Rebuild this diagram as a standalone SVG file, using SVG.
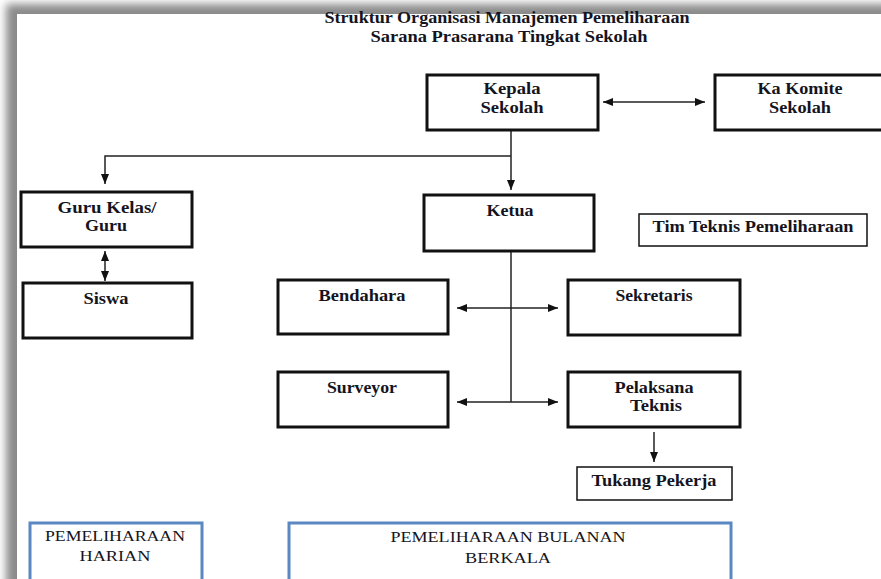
<svg xmlns="http://www.w3.org/2000/svg" width="881" height="579" viewBox="0 0 881 579">
  <defs>
    <filter id="soft" x="-20%" y="-20%" width="140%" height="140%">
      <feGaussianBlur stdDeviation="4"/>
    </filter>
    <marker id="arrow" viewBox="0 0 10 8" refX="10" refY="4" markerWidth="10" markerHeight="8" markerUnits="userSpaceOnUse" orient="auto-start-reverse">
      <path d="M0,0 L10,4 L0,8 z" fill="#111"/>
    </marker>
    <style>
      .box { fill: #fff; stroke: #111; stroke-width: 3; }
      .thin { fill: #fff; stroke: #111; stroke-width: 1.5; }
      .blue { fill: #fff; stroke: #5b87c2; stroke-width: 3; }
      .lbl { font-family: "Liberation Serif", "Times New Roman", serif; font-weight: bold; font-size: 16px; fill: #141420; text-anchor: middle; }
      .cap { font-family: "Liberation Serif", "Times New Roman", serif; font-size: 15px; fill: #141420; text-anchor: middle; }
      .ttl { font-family: "Liberation Serif", "Times New Roman", serif; font-weight: bold; font-size: 16px; fill: #141420; text-anchor: middle; }
      .conn { fill: none; stroke: #222; stroke-width: 1.5; }
    </style>
  </defs>

  <!-- page with soft shadow -->
  <rect x="0" y="0" width="881" height="579" fill="#fff"/>
  <rect x="6" y="4" width="900" height="600" fill="#8a8a8a" filter="url(#soft)"/>
  <rect x="17" y="14" width="870" height="570" fill="#fff"/>

  <!-- title -->
  <g id="title">
    <text class="ttl" x="507" y="23" textLength="365" lengthAdjust="spacingAndGlyphs">Struktur Organisasi Manajemen Pemeliharaan</text>
    <text class="ttl" x="509" y="42" textLength="277" lengthAdjust="spacingAndGlyphs">Sarana Prasarana Tingkat Sekolah</text>
  </g>

  <!-- connectors -->
  <g id="connectors">
    <line class="conn" x1="603" y1="102" x2="705" y2="102" marker-start="url(#arrow)" marker-end="url(#arrow)"/>
    <line class="conn" x1="511" y1="131" x2="511" y2="190" marker-end="url(#arrow)"/>
    <path class="conn" d="M511,156 H105 V184" marker-end="url(#arrow)"/>
    <line class="conn" x1="105" y1="251" x2="105" y2="281" marker-start="url(#arrow)" marker-end="url(#arrow)"/>
    <line class="conn" x1="511" y1="252" x2="511" y2="402"/>
    <line class="conn" x1="457" y1="308" x2="558" y2="308" marker-start="url(#arrow)" marker-end="url(#arrow)"/>
    <line class="conn" x1="457" y1="402" x2="558" y2="402" marker-start="url(#arrow)" marker-end="url(#arrow)"/>
    <line class="conn" x1="654" y1="432" x2="654" y2="462" marker-end="url(#arrow)"/>
  </g>

  <!-- nodes -->
  <g id="kepala-sekolah">
    <rect class="box" x="427" y="75" width="171" height="55"/>
    <text class="lbl" x="512" y="94" textLength="57" lengthAdjust="spacingAndGlyphs">Kepala</text>
    <text class="lbl" x="512" y="113" textLength="63" lengthAdjust="spacingAndGlyphs">Sekolah</text>
  </g>
  <g id="ka-komite">
    <rect class="box" x="715" y="75" width="175" height="55"/>
    <text class="lbl" x="800" y="94" textLength="85" lengthAdjust="spacingAndGlyphs">Ka Komite</text>
    <text class="lbl" x="800" y="113" textLength="62" lengthAdjust="spacingAndGlyphs">Sekolah</text>
  </g>
  <g id="guru-kelas">
    <rect class="box" x="21" y="192" width="171" height="55"/>
    <text class="lbl" x="107" y="213" textLength="99" lengthAdjust="spacingAndGlyphs">Guru Kelas/</text>
    <text class="lbl" x="106" y="231" textLength="42" lengthAdjust="spacingAndGlyphs">Guru</text>
  </g>
  <g id="siswa">
    <rect class="box" x="23" y="283" width="169" height="55"/>
    <text class="lbl" x="106" y="304" textLength="45" lengthAdjust="spacingAndGlyphs">Siswa</text>
  </g>
  <g id="ketua">
    <rect class="box" x="424" y="195" width="170" height="56"/>
    <text class="lbl" x="510" y="216" textLength="47" lengthAdjust="spacingAndGlyphs">Ketua</text>
  </g>
  <g id="tim-teknis">
    <rect class="thin" x="639" y="214" width="228" height="32"/>
    <text class="lbl" x="753" y="232" textLength="201" lengthAdjust="spacingAndGlyphs">Tim Teknis Pemeliharaan</text>
  </g>
  <g id="bendahara">
    <rect class="box" x="278" y="280" width="170" height="54"/>
    <text class="lbl" x="362" y="301" textLength="87" lengthAdjust="spacingAndGlyphs">Bendahara</text>
  </g>
  <g id="sekretaris">
    <rect class="box" x="568" y="280" width="172" height="55"/>
    <text class="lbl" x="654" y="301" textLength="77" lengthAdjust="spacingAndGlyphs">Sekretaris</text>
  </g>
  <g id="surveyor">
    <rect class="box" x="278" y="372" width="170" height="55"/>
    <text class="lbl" x="362" y="393" textLength="70" lengthAdjust="spacingAndGlyphs">Surveyor</text>
  </g>
  <g id="pelaksana-teknis">
    <rect class="box" x="568" y="372" width="172" height="55"/>
    <text class="lbl" x="654" y="393" textLength="79" lengthAdjust="spacingAndGlyphs">Pelaksana</text>
    <text class="lbl" x="656" y="411" textLength="52" lengthAdjust="spacingAndGlyphs">Teknis</text>
  </g>
  <g id="tukang-pekerja">
    <rect class="thin" x="577" y="467" width="155" height="33"/>
    <text class="lbl" x="654" y="486" textLength="125" lengthAdjust="spacingAndGlyphs">Tukang Pekerja</text>
  </g>
  <g id="pemeliharaan-harian">
    <rect class="blue" x="30" y="523" width="172" height="62"/>
    <text class="cap" x="115" y="541" textLength="140" lengthAdjust="spacingAndGlyphs">PEMELIHARAAN</text>
    <text class="cap" x="115" y="561" textLength="71" lengthAdjust="spacingAndGlyphs">HARIAN</text>
  </g>
  <g id="pemeliharaan-bulanan">
    <rect class="blue" x="289" y="523" width="442" height="62"/>
    <text class="cap" x="508" y="542" textLength="235" lengthAdjust="spacingAndGlyphs">PEMELIHARAAN BULANAN</text>
    <text class="cap" x="508" y="563" textLength="86" lengthAdjust="spacingAndGlyphs">BERKALA</text>
  </g>
</svg>
